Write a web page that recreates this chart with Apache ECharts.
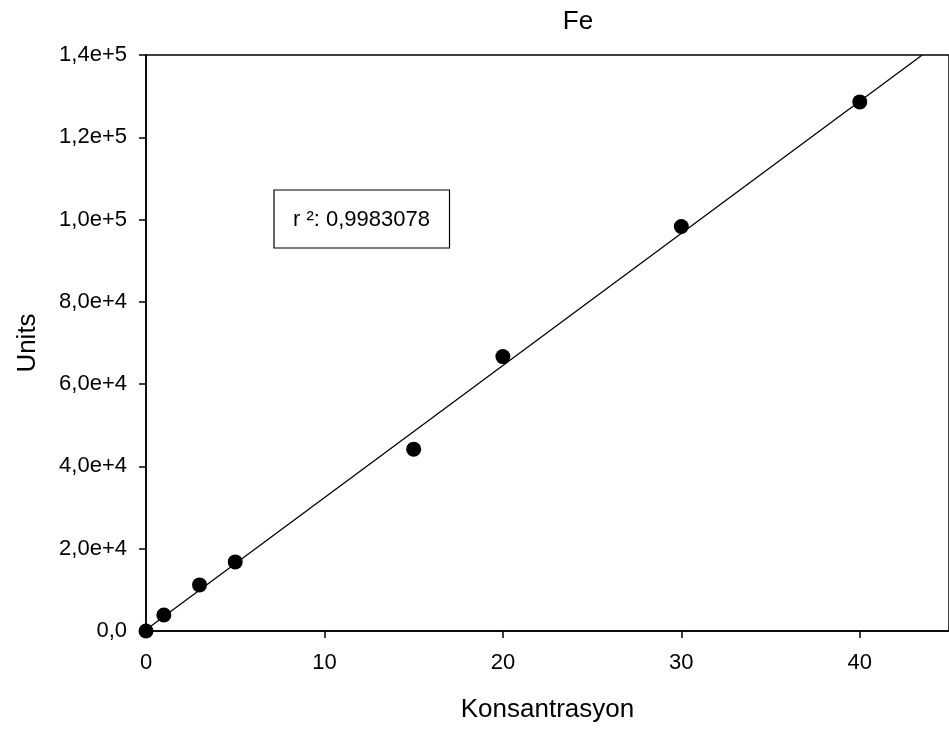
<!DOCTYPE html>
<html>
<head>
<meta charset="utf-8">
<script src="https://cdn.jsdelivr.net/npm/echarts@6/dist/echarts.min.js"></script>
<style>
html,body{margin:0;padding:0;background:#fff;}
#c{width:949px;height:734px;}
</style>
</head>
<body>
<div id="c"></div>
<script>
// Data
const concentration = [0, 1, 3, 5, 15, 20, 30, 40];
const units = [0, 3900, 11200, 16800, 44200, 66700, 98300, 128600];
// Regression line end points
const fitX = [0, 43.5];
const fitY = [300, 140000];
const rSquaredText = 'r ²: 0,9983078';
const xTicks = [0, 10, 20, 30, 40];
const xTickLabels = ['0', '10', '20', '30', '40'];
const yTicks = [0, 20000, 40000, 60000, 80000, 100000, 120000, 140000];
const yTickLabels = ['0,0', '2,0e+4', '4,0e+4', '6,0e+4', '8,0e+4', '1,0e+5', '1,2e+5', '1,4e+5'];

const FONT = '"Liberation Sans", Arial, sans-serif';
const chart = echarts.init(document.getElementById('c'), null, {renderer: 'canvas'});

const scatterData = concentration.map((x, i) => [x, units[i]]);
const fitData = fitX.map((x, i) => [x, fitY[i]]);

chart.setOption({
  animation: false,
  backgroundColor: '#fff',
  grid: {
    left: 146, top: 55, bottom: 103, right: -2.5,
    show: true, borderColor: '#000', borderWidth: 1.5, backgroundColor: 'transparent'
  },
  graphic: [
    {type: 'text', x: 578, y: 22, style: {text: 'Fe', font: '26px ' + FONT, fill: '#000', align: 'center', verticalAlign: 'middle'}},
    {type: 'rect', shape: {x: 274, y: 190, width: 175.5, height: 58}, style: {fill: '#fff', stroke: '#000', lineWidth: 1.2}, z: 10},
    {type: 'text', x: 361.5, y: 219.5, style: {text: rSquaredText, font: '22px ' + FONT, fill: '#000', align: 'center', verticalAlign: 'middle'}, z: 11}
  ],
  xAxis: {
    type: 'value', min: 0, max: 45, interval: 10,
    name: 'Konsantrasyon', nameLocation: 'middle', nameGap: 66,
    nameTextStyle: {fontFamily: FONT, fontSize: 26, color: '#000'},
    axisLine: {show: true, onZero: false, lineStyle: {color: '#000', width: 1.5}},
    axisTick: {show: true, length: 7, lineStyle: {color: '#000', width: 1.5}},
    axisLabel: {
      fontFamily: FONT, fontSize: 22, color: '#000', margin: 21, showMaxLabel: false,
      formatter: v => { const i = xTicks.indexOf(v); return i >= 0 ? xTickLabels[i] : ''; }
    },
    splitLine: {show: false}
  },
  yAxis: {
    type: 'value', min: 0, max: 140000, interval: 20000,
    name: 'Units', nameLocation: 'middle', nameGap: 105,
    nameTextStyle: {fontFamily: FONT, fontSize: 26, color: '#000'},
    axisLine: {show: true, onZero: false, lineStyle: {color: '#000', width: 1.5}},
    axisTick: {show: true, length: 7, lineStyle: {color: '#000', width: 1.5}},
    axisLabel: {
      fontFamily: FONT, fontSize: 22, color: '#000', margin: 19,
      formatter: v => { const i = yTicks.indexOf(v); return i >= 0 ? yTickLabels[i] : ''; }
    },
    splitLine: {show: false}
  },
  series: [
    {
      type: 'line', data: fitData, showSymbol: false, symbol: 'none',
      lineStyle: {color: '#000', width: 1.3}, clip: true, z: 2, silent: true
    },
    {
      type: 'scatter', data: scatterData, symbol: 'circle', symbolSize: 15,
      itemStyle: {color: '#000', opacity: 1}, clip: false, z: 3
    }
  ]
});
</script>
</body>
</html>
